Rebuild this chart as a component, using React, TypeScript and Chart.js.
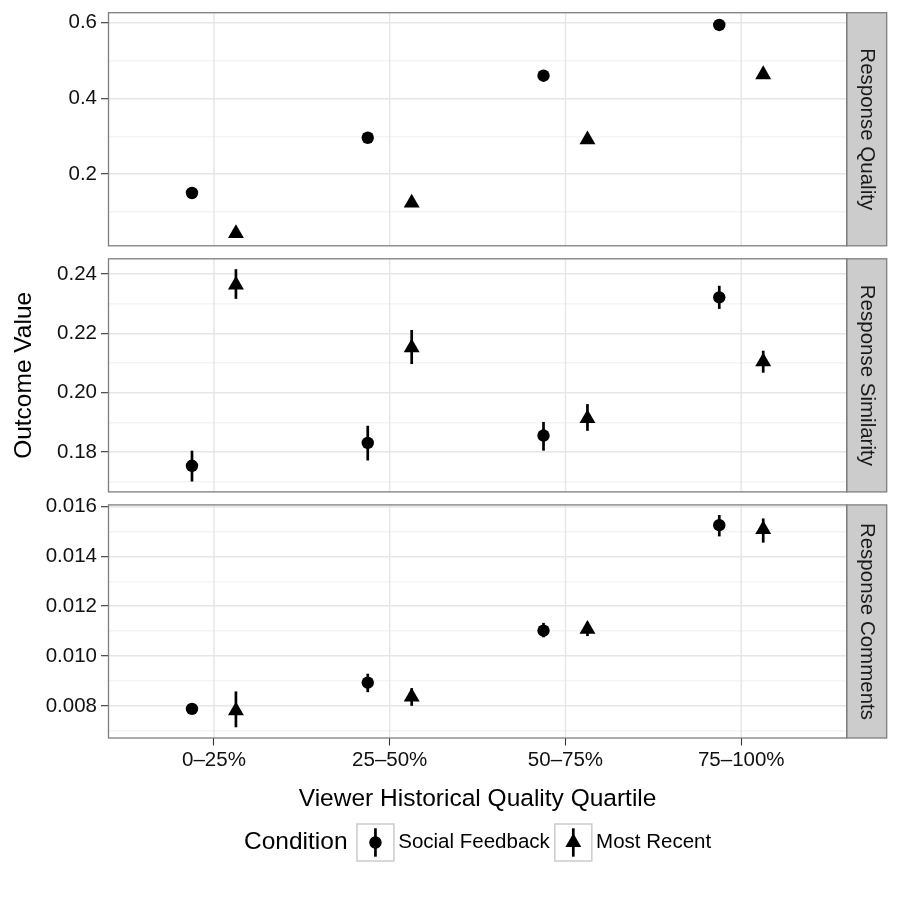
import { useEffect, useRef } from "react";
import { Chart, registerables } from "chart.js";

Chart.register(...registerables);

const FONT = "'Liberation Sans', Arial, Helvetica, sans-serif";

const quartiles = ["0–25%", "25–50%", "50–75%", "75–100%"];
const conditions = ["Social Feedback", "Most Recent"];
const outcomes = ["Response Quality", "Response Similarity", "Response Comments"];
const xAxisTitle = "Viewer Historical Quality Quartile";
const yAxisTitle = "Outcome Value";
const legendTitle = "Condition";

// Response Quality
const qualitySocial = [0.15, 0.296, 0.46, 0.594];
const qualitySocialLow = [0.146, 0.292, 0.456, 0.59];
const qualitySocialHigh = [0.154, 0.3, 0.464, 0.598];
const qualityRecent = [0.043, 0.124, 0.291, 0.463];
const qualityRecentLow = [0.0385, 0.12, 0.287, 0.459];
const qualityRecentHigh = [0.0475, 0.128, 0.295, 0.467];
const qualityTicks = [0.2, 0.4, 0.6];
const qualityTickLabels = ["0.2", "0.4", "0.6"];
const qualityMinorTicks = [0.1, 0.3, 0.5];
const qualityRange = [0.0105, 0.6264];

// Response Similarity
const similaritySocial = [0.1753, 0.183, 0.1855, 0.2321];
const similaritySocialLow = [0.17, 0.1771, 0.1804, 0.2282];
const similaritySocialHigh = [0.1804, 0.1888, 0.1901, 0.236];
const similarityRecent = [0.2363, 0.2151, 0.1913, 0.2104];
const similarityRecentLow = [0.2316, 0.2096, 0.1871, 0.2067];
const similarityRecentHigh = [0.2416, 0.2211, 0.1961, 0.2141];
const similarityTicks = [0.18, 0.2, 0.22, 0.24];
const similarityTickLabels = ["0.18", "0.20", "0.22", "0.24"];
const similarityMinorTicks = [0.17, 0.19, 0.21, 0.23];
const similarityRange = [0.1665, 0.2451];

// Response Comments
const commentsSocial = [0.00788, 0.00893, 0.01102, 0.01525];
const commentsSocialLow = [0.00776, 0.00855, 0.01075, 0.0148];
const commentsSocialHigh = [0.008, 0.00929, 0.01133, 0.01566];
const commentsRecent = [0.00781, 0.00836, 0.01108, 0.01508];
const commentsRecentLow = [0.00714, 0.008, 0.0108, 0.01455];
const commentsRecentHigh = [0.00858, 0.00871, 0.01137, 0.01552];
const commentsTicks = [0.008, 0.01, 0.012, 0.014, 0.016];
const commentsTickLabels = ["0.008", "0.010", "0.012", "0.014", "0.016"];
const commentsMinorTicks = [0.007, 0.009, 0.011, 0.013, 0.015];
const commentsRange = [0.00671, 0.016064];

const panels = [
  {
    id: "yQuality", strip: outcomes[0],
    social: qualitySocial, socialLow: qualitySocialLow, socialHigh: qualitySocialHigh,
    recent: qualityRecent, recentLow: qualityRecentLow, recentHigh: qualityRecentHigh,
    ticks: qualityTicks, labels: qualityTickLabels, minor: qualityMinorTicks, range: qualityRange,
  },
  {
    id: "ySimilarity", strip: outcomes[1],
    social: similaritySocial, socialLow: similaritySocialLow, socialHigh: similaritySocialHigh,
    recent: similarityRecent, recentLow: similarityRecentLow, recentHigh: similarityRecentHigh,
    ticks: similarityTicks, labels: similarityTickLabels, minor: similarityMinorTicks, range: similarityRange,
  },
  {
    id: "yComments", strip: outcomes[2],
    social: commentsSocial, socialLow: commentsSocialLow, socialHigh: commentsSocialHigh,
    recent: commentsRecent, recentLow: commentsRecentLow, recentHigh: commentsRecentHigh,
    ticks: commentsTicks, labels: commentsTickLabels, minor: commentsMinorTicks, range: commentsRange,
  },
];

const DODGE = 0.125;
const CIRCLE_R = 6.2;
const TRIANGLE_R = 9.2;
const ERR_WIDTH = 2.7;
const GRID_MAJOR = "#E6E6E6";
const GRID_MINOR = "#F4F4F4";
const BORDER = "#7F7F7F";
const STRIP_FILL = "#CCCCCC";
const STRIP_W = 40;
const TEXT = "#111111";

const near = (a: number, b: number) => Math.abs(a - b) < 1e-9;
const isMajor = (p: any, v: number) => p.ticks.some((t: number) => near(t, v));

const datasets = panels.flatMap((p) => [
  {
    label: conditions[0],
    yAxisID: p.id,
    data: p.social.map((v, i) => ({ x: i + 1 - DODGE, y: v })),
    errLow: p.socialLow,
    errHigh: p.socialHigh,
    pointStyle: "circle",
    pointRadius: CIRCLE_R,
    pointBorderWidth: 0,
    backgroundColor: "#000",
    borderColor: "#000",
  },
  {
    label: conditions[1],
    yAxisID: p.id,
    data: p.recent.map((v, i) => ({ x: i + 1 + DODGE, y: v })),
    errLow: p.recentLow,
    errHigh: p.recentHigh,
    pointStyle: "triangle",
    pointRadius: TRIANGLE_R,
    pointBorderWidth: 0,
    backgroundColor: "#000",
    borderColor: "#000",
  },
]);

// label overhang must not push the panels around
const fixBoxPadding = (s: any) => {
  s.paddingTop = 0;
  s.paddingBottom = 0;
  s.paddingLeft = 0;
  s.paddingRight = 0;
};

const yScale = (p: any, order: number, withTitle: boolean) => ({
  type: "linear",
  axis: "y",
  position: "left",
  stack: "panels",
  stackWeight: 233,
  weight: order,
  min: p.range[0],
  max: p.range[1],
  bounds: "data",
  afterBuildTicks: (s: any) => {
    s.ticks = [...p.ticks, ...p.minor].sort((a, b) => a - b).map((value) => ({ value }));
  },
  afterFit: (s: any) => {
    s.width = 108.5;
    fixBoxPadding(s);
  },
  ticks: {
    autoSkip: false,
    padding: 4,
    color: TEXT,
    font: { family: FONT, size: 20.5 },
    callback: (v: number) => {
      const k = p.ticks.findIndex((t: number) => near(t, v));
      return k >= 0 ? p.labels[k] : "";
    },
  },
  grid: {
    color: (c: any) => (c.tick && isMajor(p, c.tick.value) ? GRID_MAJOR : GRID_MINOR),
    lineWidth: 1.4,
    tickLength: 7.5,
    tickWidth: 1.1,
    tickColor: (c: any) => (c.tick && isMajor(p, c.tick.value) ? "#333333" : "rgba(0,0,0,0)"),
  },
  border: { display: false },
  title: {
    display: withTitle,
    text: yAxisTitle,
    color: "#000",
    font: { family: FONT, size: 24.5 },
    padding: { top: 9.3, bottom: 0 },
  },
});

const gapScale = (order: number) => ({
  type: "linear",
  axis: "y",
  position: "left",
  stack: "panels",
  stackWeight: 13,
  weight: order,
  display: false,
  afterFit: fixBoxPadding,
});

// vertical grid lines drawn separately inside each panel
const panelGridPlugin = {
  id: "panelGrid",
  beforeDatasetsDraw(chart: any) {
    const { ctx } = chart;
    const x = chart.scales.x;
    ctx.save();
    ctx.strokeStyle = GRID_MAJOR;
    ctx.lineWidth = 1.4;
    panels.forEach((p) => {
      const y = chart.scales[p.id];
      quartiles.forEach((_, i) => {
        const px = x.getPixelForValue(i + 1);
        ctx.beginPath();
        ctx.moveTo(px, y.top);
        ctx.lineTo(px, y.bottom);
        ctx.stroke();
      });
    });
    ctx.restore();
  },
};

// point ranges: vertical segments from low to high under each marker
const errorBarPlugin = {
  id: "errorBars",
  beforeDatasetsDraw(chart: any) {
    const { ctx } = chart;
    const x = chart.scales.x;
    ctx.save();
    ctx.strokeStyle = "#000";
    ctx.lineWidth = ERR_WIDTH;
    chart.data.datasets.forEach((ds: any) => {
      const y = chart.scales[ds.yAxisID];
      ds.data.forEach((pt: any, i: number) => {
        const px = x.getPixelForValue(pt.x);
        ctx.beginPath();
        ctx.moveTo(px, y.getPixelForValue(ds.errLow[i]));
        ctx.lineTo(px, y.getPixelForValue(ds.errHigh[i]));
        ctx.stroke();
      });
    });
    ctx.restore();
  },
};

function drawMarker(ctx: CanvasRenderingContext2D, style: string, cx: number, cy: number) {
  ctx.beginPath();
  if (style === "circle") {
    ctx.arc(cx, cy, CIRCLE_R, 0, Math.PI * 2);
  } else {
    const r = TRIANGLE_R;
    ctx.moveTo(cx, cy - r);
    ctx.lineTo(cx + r * Math.sin(Math.PI * 2 / 3), cy + r * 0.5);
    ctx.lineTo(cx - r * Math.sin(Math.PI * 2 / 3), cy + r * 0.5);
    ctx.closePath();
  }
  ctx.fill();
}

// panel borders, facet strips and the bottom legend
const frameAndLegendPlugin = {
  id: "frameAndLegend",
  afterDraw(chart: any) {
    const { ctx, chartArea } = chart;
    ctx.save();
    panels.forEach((p) => {
      const y = chart.scales[p.id];
      const h = y.bottom - y.top;
      ctx.fillStyle = STRIP_FILL;
      ctx.fillRect(chartArea.right, y.top, STRIP_W, h);
      ctx.strokeStyle = BORDER;
      ctx.lineWidth = 1.3;
      ctx.strokeRect(chartArea.right, y.top, STRIP_W, h);
      ctx.strokeRect(chartArea.left, y.top, chartArea.right - chartArea.left, h);

      ctx.save();
      ctx.translate(chartArea.right + STRIP_W / 2, (y.top + y.bottom) / 2);
      ctx.rotate(Math.PI / 2);
      ctx.fillStyle = "#1A1A1A";
      ctx.font = `20.5px ${FONT}`;
      ctx.textAlign = "center";
      ctx.textBaseline = "middle";
      ctx.fillText(p.strip, 0, 0);
      ctx.restore();
    });

    // legend
    const cy = chart.height - 57.5;
    const KEY = 37;
    const G_TITLE = 9.4;
    const G_LABEL = 4.3;
    const G_ITEM = 5;
    ctx.font = `24.5px ${FONT}`;
    const tw = ctx.measureText(legendTitle).width;
    ctx.font = `20.5px ${FONT}`;
    const lw = conditions.map((c) => ctx.measureText(c).width);
    const total = tw + G_TITLE + 2 * (KEY + G_LABEL) + lw[0] + G_ITEM + lw[1];
    let x = (chartArea.left + chartArea.right) / 2 - total / 2;

    ctx.textBaseline = "middle";
    ctx.textAlign = "left";
    ctx.fillStyle = "#000";
    ctx.font = `24.5px ${FONT}`;
    ctx.fillText(legendTitle, x, cy);
    x += tw + G_TITLE;

    const styles = ["circle", "triangle"];
    conditions.forEach((c, i) => {
      ctx.fillStyle = "#fff";
      ctx.fillRect(x, cy - KEY / 2, KEY, KEY);
      ctx.strokeStyle = "#CCCCCC";
      ctx.lineWidth = 1.5;
      ctx.strokeRect(x, cy - KEY / 2, KEY, KEY);
      const kx = x + KEY / 2;
      ctx.strokeStyle = "#000";
      ctx.lineWidth = ERR_WIDTH;
      ctx.beginPath();
      ctx.moveTo(kx, cy - 14.2);
      ctx.lineTo(kx, cy + 14.2);
      ctx.stroke();
      ctx.fillStyle = "#000";
      drawMarker(ctx, styles[i], kx, cy);
      x += KEY + G_LABEL;
      ctx.font = `20.5px ${FONT}`;
      ctx.fillStyle = "#000";
      ctx.fillText(c, x, cy);
      x += lw[i] + G_ITEM;
    });
    ctx.restore();
  },
};

export default function App() {
  const ref = useRef<HTMLCanvasElement>(null);

  useEffect(() => {
    document.body.style.margin = "0";
    const chart = new Chart(ref.current as HTMLCanvasElement, {
      type: "scatter",
      data: { datasets: datasets as any },
      options: {
        responsive: false,
        animation: false,
        devicePixelRatio: 1,
        layout: {
          autoPadding: false,
          padding: { top: 12.7, right: 53.3, bottom: 0, left: 0 },
        },
        plugins: {
          legend: { display: false },
          tooltip: { enabled: false },
        },
        scales: {
          x: {
            type: "linear",
            position: "bottom",
            min: 0.4,
            max: 4.6,
            bounds: "data",
            afterBuildTicks: (s: any) => {
              s.ticks = quartiles.map((_, i) => ({ value: i + 1 }));
            },
            afterFit: (s: any) => {
              s.height = 162;
              fixBoxPadding(s);
            },
            ticks: {
              autoSkip: false,
              maxRotation: 0,
              minRotation: 0,
              padding: 2.8,
              color: TEXT,
              font: { family: FONT, size: 20.5 },
              callback: (v: number) => quartiles[Math.round(v) - 1] ?? "",
            },
            grid: {
              display: true,
              drawOnChartArea: false,
              drawTicks: true,
              tickLength: 7.5,
              tickWidth: 1.1,
              tickColor: "#333333",
            },
            border: { display: false },
            title: {
              display: true,
              text: xAxisTitle,
              color: "#000",
              font: { family: FONT, size: 24.5 },
              padding: { top: 0, bottom: 86.3 },
            },
          },
          yQuality: yScale(panels[0], 5, false),
          gap1: gapScale(4),
          ySimilarity: yScale(panels[1], 3, true),
          gap2: gapScale(2),
          yComments: yScale(panels[2], 1, false),
        } as any,
      },
      plugins: [panelGridPlugin, errorBarPlugin, frameAndLegendPlugin],
    });
    return () => chart.destroy();
  }, []);

  return (
    <div style={{ position: "absolute", left: 0, top: 0, width: 900, height: 900, background: "#fff" }}>
      <canvas ref={ref} width={900} height={900} style={{ display: "block" }} />
    </div>
  );
}
